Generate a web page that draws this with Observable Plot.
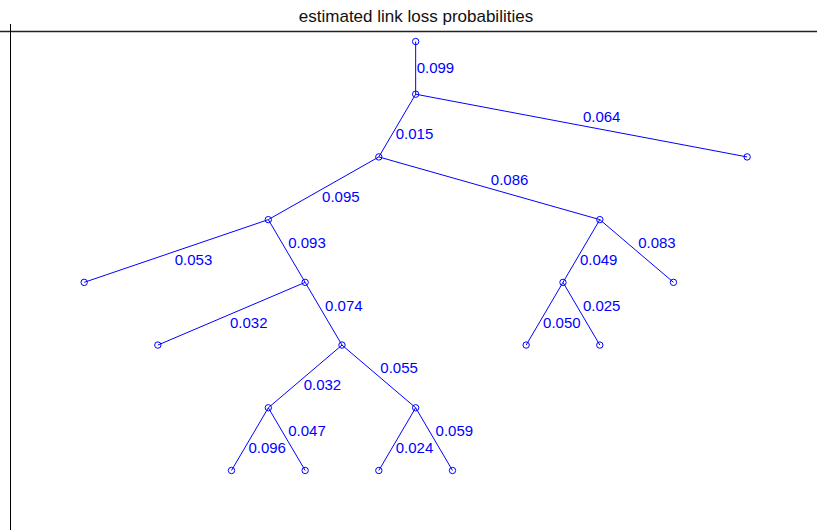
<!DOCTYPE html>
<html>
<head>
<meta charset="utf-8">
<script src="https://cdn.jsdelivr.net/npm/d3@7"></script>
<script src="https://cdn.jsdelivr.net/npm/@observablehq/plot@0.6"></script>
<style>
  html, body { margin: 0; padding: 0; background: white; }
  #title { width: 817px; height: 24px; overflow: visible; white-space: nowrap; text-align: center; font-size: 17px; font-family: "Liberation Sans", Arial, Helvetica, sans-serif; line-height: 33px; color: #111; box-sizing: border-box; padding-left: 15px; }
</style>
</head>
<body>
<div id="title">estimated link loss probabilities</div>
<div id="chart"></div>
<script>
// Tree nodes (x in leaf-slot units, y in level units; leaves at 0)
const nodeX = [4.5, 4.5, 9, 4, 2.5, 7, 0, 3, 6.5, 8, 1, 3.5, 6, 7, 2.5, 4.5, 2, 3, 4, 5];
const nodeY = [6.84, 6, 5, 5, 4, 4, 3, 3, 3, 3, 2, 2, 2, 2, 1, 1, 0, 0, 0, 0];
const parent = [-1, 0, 1, 1, 3, 3, 4, 4, 5, 5, 7, 7, 8, 8, 11, 11, 14, 14, 15, 15];
const lossLabels = [null, "0.099", "0.064", "0.015", "0.095", "0.086", "0.053", "0.093", "0.049", "0.083",
  "0.032", "0.074", "0.050", "0.025", "0.032", "0.055", "0.096", "0.047", "0.024", "0.059"];

const nodes = nodeX.map((x, i) => ({x, y: nodeY[i]}));
const edges = parent.map((p, i) => p < 0 ? null : ({
  x1: nodeX[p], y1: nodeY[p], x2: nodeX[i], y2: nodeY[i],
  mx: (nodeX[p] + nodeX[i]) / 2, my: (nodeY[p] + nodeY[i]) / 2,
  dir: Math.sign(nodeX[i] - nodeX[p]), label: lossLabels[i]
})).filter(d => d);

const blue = "#0000ff";
const font = "Liberation Sans, Arial, Helvetica, sans-serif";
const textOpts = {x: "mx", y: "my", text: "label", fill: blue, textAnchor: "start", fontSize: 15, fontFamily: font, dx: 0};

const plot = Plot.plot({
  width: 817,
  height: 506,
  marginTop: 0, marginLeft: 0, marginRight: 0, marginBottom: 0,
  x: {domain: [-1, 9.955], range: [10, 817], axis: null},
  y: {domain: [-1, 7], range: [508.7, 7], axis: null},
  style: {fontFamily: font, background: "white"},
  marks: [
    Plot.ruleY([7], {stroke: "#222", strokeWidth: 1.3}),
    Plot.ruleX([-1], {stroke: "#000", strokeWidth: 1}),
    Plot.link(edges, {x1: "x1", y1: "y1", x2: "x2", y2: "y2", stroke: blue, strokeWidth: 1}),
    Plot.dot(nodes, {x: "x", y: "y", r: 3.2, stroke: blue, strokeWidth: 1, fill: "none"}),
    Plot.text(edges.filter(d => d.dir < 0), {...textOpts, dx: -1.5, dy: 9}),
    Plot.text(edges.filter(d => d.dir > 0), {...textOpts, dx: 1.5, dy: -8}),
    Plot.text(edges.filter(d => d.dir === 0), {...textOpts, dx: 1})
  ]
});
document.getElementById("chart").appendChild(plot);
</script>
</body>
</html>
